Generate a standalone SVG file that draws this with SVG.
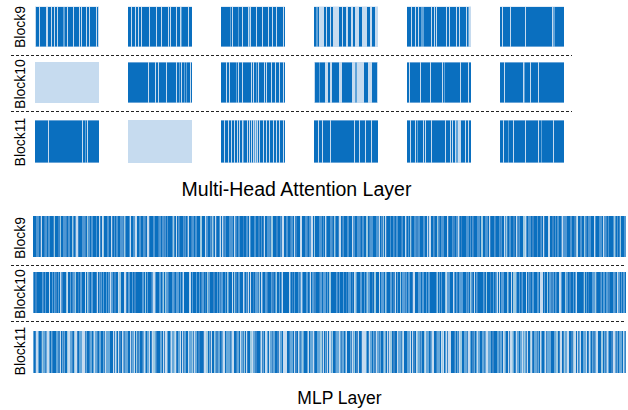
<svg xmlns="http://www.w3.org/2000/svg" width="628" height="410" viewBox="0 0 628 410">
<style>
.bg{fill:#fff}
.lt{fill:#c6dbef}
.dk{stroke:#0a6fbf;fill:none}
.md{stroke:#5fa3d9;fill:none}
.r1{stroke-width:39.5}
.r2{stroke-width:40}
.r3{stroke-width:42}
.sep{stroke:#222;stroke-width:1;stroke-dasharray:3 2;fill:none}
.lbl{font-family:"Liberation Sans",Arial,sans-serif;font-size:14px;fill:#000;text-anchor:middle}
.ttl{font-family:"Liberation Sans",Arial,sans-serif;fill:#000;text-anchor:middle}
.pD{stroke:#0a6fbf;stroke-dasharray:2 4 1 3 1 6 3 2 1 5 2 7 1 3 1 4 2 9 1 2 3 5 1 3 2 6 1 4 1 8 2 3 1 5 1 2 2 7 3 4 1 3 1 6 2 5 1 4}
.pL{stroke:#c6dbef;stroke-dasharray:1 6 2 9 1 4 3 11 1 5 2 7 1 13 4 8 1 6 2 10 1 4 3 9 2 12 1 7 1 5 2 11 1 8}
.pM{stroke:#3a86c8;stroke-dasharray:1 5 2 3 1 8 1 4 2 6 1 3 1 7 2 5 1 9 1 4 2 3 1 6}
.pLM{stroke:#9ecae1;stroke-dasharray:2 7 1 11 1 5 3 9 1 13 2 6 1 8}
</style>
<rect class="bg" x="0" y="0" width="628" height="410"/>

<!-- Multi-Head Attention: Block9 -->
<g id="attn-b9-h1" transform="translate(35,6.5)"><rect class="lt" width="64" height="40.5"/><line class="dk r1" x1="0" x2="64" y1="20.25" y2="20.25" stroke-dasharray="0 1 3 1 6 2 3 1 2 1 2 1 5 2 2 1 5 1 5 1 1 1 4 1 2 1 6 1 1 9"/><line class="md r1" x1="0" x2="64" y1="20.25" y2="20.25" stroke-dasharray="0 28 2 40"/></g>
<g id="attn-b9-h2" transform="translate(128,6.5)"><rect class="lt" width="64" height="40.5"/><line class="dk r1" x1="0" x2="64" y1="20.25" y2="20.25" stroke-dasharray="3 1 3 1 2 1 2 1 7 1 6 1 4 1 6 1 1 1 5 1 3 2 6 1 3 9"/><line class="md r1" x1="0" x2="64" y1="20.25" y2="20.25" stroke-dasharray="0 53 1 20"/></g>
<g id="attn-b9-h3" transform="translate(221,6.5)"><rect class="lt" width="64" height="40.5"/><line class="dk r1" x1="0" x2="64" y1="20.25" y2="20.25" stroke-dasharray="9 1 1 1 5 1 3 1 5 3 5 1 5 1 5 1 3 1 3 1 6 1 1 9"/><line class="md r1" x1="0" x2="64" y1="20.25" y2="20.25" stroke-dasharray="0 9 1 7 1 10 1 40"/></g>
<g id="attn-b9-h4" transform="translate(314,6.5)"><rect class="lt" width="64" height="40.5"/><line class="dk r1" x1="0" x2="64" y1="20.25" y2="20.25" stroke-dasharray="2 2 1 5 2 1 3 1 2 6 3 1 3 2 3 2 2 4 3 5 3 2 3 9"/><line class="md r1" x1="0" x2="64" y1="20.25" y2="20.25" stroke-dasharray="0 2 2 60"/></g>
<g id="attn-b9-h5" transform="translate(407,6.5)"><rect class="lt" width="64" height="40.5"/><line class="dk r1" x1="0" x2="64" y1="20.25" y2="20.25" stroke-dasharray="4 1 3 1 2 1 2 3 7 1 2 1 1 1 9 1 2 1 6 1 2 1 6 1 1 9"/><line class="md r1" x1="0" x2="64" y1="20.25" y2="20.25" stroke-dasharray="0 14 3 44 1 10"/></g>
<g id="attn-b9-h6" transform="translate(500,6.5)"><rect class="lt" width="64" height="40.5"/><line class="dk r1" x1="0" x2="64" y1="20.25" y2="20.25" stroke-dasharray="2 1 7 1 14 1 26 3 9 9"/><line class="md r1" x1="0" x2="64" y1="20.25" y2="20.25" stroke-dasharray="0 53 2 20"/></g>

<!-- Block10 -->
<g id="attn-b10-h1" transform="translate(35,62)"><rect class="lt" width="64" height="41"/></g>
<g id="attn-b10-h2" transform="translate(128,62)"><rect class="lt" width="64" height="41"/><line class="dk r2" x1="0" x2="64" y1="20.5" y2="20.5" stroke-dasharray="20 1 6 1 2 1 7 1 9 1 2 1 1 1 2 1 1 1 3 1 1 9"/><line class="md r2" x1="0" x2="64" y1="20.5" y2="20.5" stroke-dasharray="0 51 1 4 1 1 1 20"/></g>
<g id="attn-b10-h3" transform="translate(221,62)"><rect class="lt" width="64" height="41"/><line class="dk r2" x1="0" x2="64" y1="20.5" y2="20.5" stroke-dasharray="5 1 2 1 6 1 1 1 3 1 8 1 1 1 2 1 1 1 5 1 1 1 4 1 3 1 3 1 3 1 1 9"/><line class="md r2" x1="0" x2="64" y1="20.5" y2="20.5" stroke-dasharray="0 15 1 19 1 40"/></g>
<g id="attn-b10-h4" transform="translate(314,62)"><rect class="lt" width="64" height="41"/><line class="dk r2" x1="0" x2="64" y1="20.5" y2="20.5" stroke-dasharray="0 1 4 1 5 3 2 2 7 3 10 12 4 4 5 9"/><line class="md r2" x1="0" x2="64" y1="20.5" y2="20.5" stroke-dasharray="0 5 1 35 2 30"/></g>
<g id="attn-b10-h5" transform="translate(407,62)"><rect class="lt" width="64" height="41"/><line class="dk r2" x1="0" x2="64" y1="20.5" y2="20.5" stroke-dasharray="2 1 10 1 9 1 11 1 1 1 15 1 7 1 2 9"/><line class="md r2" x1="0" x2="64" y1="20.5" y2="20.5" stroke-dasharray="0 37 1 30"/></g>
<g id="attn-b10-h6" transform="translate(500,62)"><rect class="lt" width="64" height="41"/><line class="dk r2" x1="0" x2="64" y1="20.5" y2="20.5" stroke-dasharray="4 1 18 2 5 1 7 1 25 9"/><line class="md r2" x1="0" x2="64" y1="20.5" y2="20.5" stroke-dasharray="0 24 1 40"/></g>

<!-- Block11 -->
<g id="attn-b11-h1" transform="translate(35,120)"><rect class="lt" width="64" height="43"/><line class="dk r3" x1="0" x2="64" y1="21.5" y2="21.5" stroke-dasharray="13 1 33 1 2 1 1 1 11 9"/><line class="md r3" x1="0" x2="64" y1="21.5" y2="21.5" stroke-dasharray="0 50 1 20"/></g>
<g id="attn-b11-h2" transform="translate(128,120)"><rect class="lt" width="64" height="43"/></g>
<g id="attn-b11-h3" transform="translate(221,120)"><rect class="lt" width="64" height="43"/><line class="dk r3" x1="0" x2="64" y1="21.5" y2="21.5" stroke-dasharray="3 1 3 1 2 1 2 1 2 1 1 1 2 2 3 1 1 1 1 1 1 5 1 1 3 1 2 1 2 1 3 1 2 1 2 1 3 1 1 9"/><line class="md r3" x1="0" x2="64" y1="21.5" y2="21.5" stroke-dasharray="0 22 1 10 1 1 1 40"/></g>
<g id="attn-b11-h4" transform="translate(314,120)"><rect class="lt" width="64" height="43"/><line class="dk r3" x1="0" x2="64" y1="21.5" y2="21.5" stroke-dasharray="4 1 3 1 7 1 23 1 4 1 5 1 5 1 6 9"/></g>
<g id="attn-b11-h5" transform="translate(407,120)"><rect class="lt" width="64" height="43"/><line class="dk r3" x1="0" x2="64" y1="21.5" y2="21.5" stroke-dasharray="3 1 4 1 1 1 5 1 1 1 5 1 13 1 4 1 1 1 2 6 4 1 2 1 2 9"/><line class="md r3" x1="0" x2="64" y1="21.5" y2="21.5" stroke-dasharray="0 10 1 38 2 20"/></g>
<g id="attn-b11-h6" transform="translate(500,120)"><rect class="lt" width="64" height="43"/><line class="dk r3" x1="0" x2="64" y1="21.5" y2="21.5" stroke-dasharray="3 1 4 1 4 1 11 1 12 1 2 1 11 1 10 9"/><line class="md r3" x1="0" x2="64" y1="21.5" y2="21.5" stroke-dasharray="0 8 1 32 1 30"/></g>

<!-- separators -->
<g id="separators">
<line class="sep" x1="11" x2="572" y1="55.5" y2="55.5"/>
<line class="sep" x1="11" x2="572" y1="111.5" y2="111.5"/>
<line class="sep" x1="11" x2="626" y1="265.5" y2="265.5"/>
<line class="sep" x1="11" x2="626" y1="321.5" y2="321.5"/>
</g>

<!-- MLP rows -->
<g id="mlp-b9" transform="translate(33,216)">
<rect width="593" height="41" fill="#4f97d3"/>
<line class="pLM" x1="0" x2="593" y1="20.5" y2="20.5" stroke-width="41"/>
<line class="pL" x1="0" x2="593" y1="20.5" y2="20.5" stroke-width="41"/>
<line class="pM" x1="0" x2="593" y1="20.5" y2="20.5" stroke-width="41"/>
<line class="pD" x1="0" x2="593" y1="20.5" y2="20.5" stroke-width="41"/>
<line class="pD" x1="0" x2="593" y1="20.5" y2="20.5" stroke-width="41" stroke-dashoffset="71"/>
</g>
<g id="mlp-b10" transform="translate(33,272)">
<rect width="593" height="41" fill="#5a9fd8"/>
<line class="pLM" x1="0" x2="593" y1="20.5" y2="20.5" stroke-width="41" stroke-dashoffset="37"/>
<line class="pL" x1="0" x2="593" y1="20.5" y2="20.5" stroke-width="41" stroke-dashoffset="51"/>
<line class="pM" x1="0" x2="593" y1="20.5" y2="20.5" stroke-width="41" stroke-dashoffset="23"/>
<line class="pD" x1="0" x2="593" y1="20.5" y2="20.5" stroke-width="41" stroke-dashoffset="11"/>
<line class="pD" x1="0" x2="593" y1="20.5" y2="20.5" stroke-width="41" stroke-dashoffset="104"/>
</g>
<g id="mlp-b11" transform="translate(33,331)">
<rect width="593" height="42" fill="#66a8da"/>
<line class="pLM" x1="0" x2="593" y1="21" y2="21" stroke-width="42" stroke-dashoffset="90"/>
<line class="pL" x1="0" x2="593" y1="21" y2="21" stroke-width="42" stroke-dashoffset="100"/>
<line class="pL" x1="0" x2="593" y1="21" y2="21" stroke-width="42" stroke-dashoffset="17"/>
<line class="pM" x1="0" x2="593" y1="21" y2="21" stroke-width="42" stroke-dashoffset="60"/>
<line class="pD" x1="0" x2="593" y1="21" y2="21" stroke-width="42" stroke-dashoffset="40"/>
</g>

<!-- labels -->
<g id="labels">
<text class="lbl" transform="translate(25,27) rotate(-90)">Block9</text>
<text class="lbl" transform="translate(25,84) rotate(-90)">Block10</text>
<text class="lbl" transform="translate(25,142) rotate(-90)">Block11</text>
<text class="lbl" transform="translate(25,238) rotate(-90)">Block9</text>
<text class="lbl" transform="translate(25,294) rotate(-90)">Block10</text>
<text class="lbl" transform="translate(25,351) rotate(-90)">Block11</text>
<text class="ttl" x="296.5" y="195.5" font-size="19.5">Multi-Head Attention Layer</text>
<text class="ttl" x="339.5" y="403.5" font-size="17.5">MLP Layer</text>
</g>
</svg>
